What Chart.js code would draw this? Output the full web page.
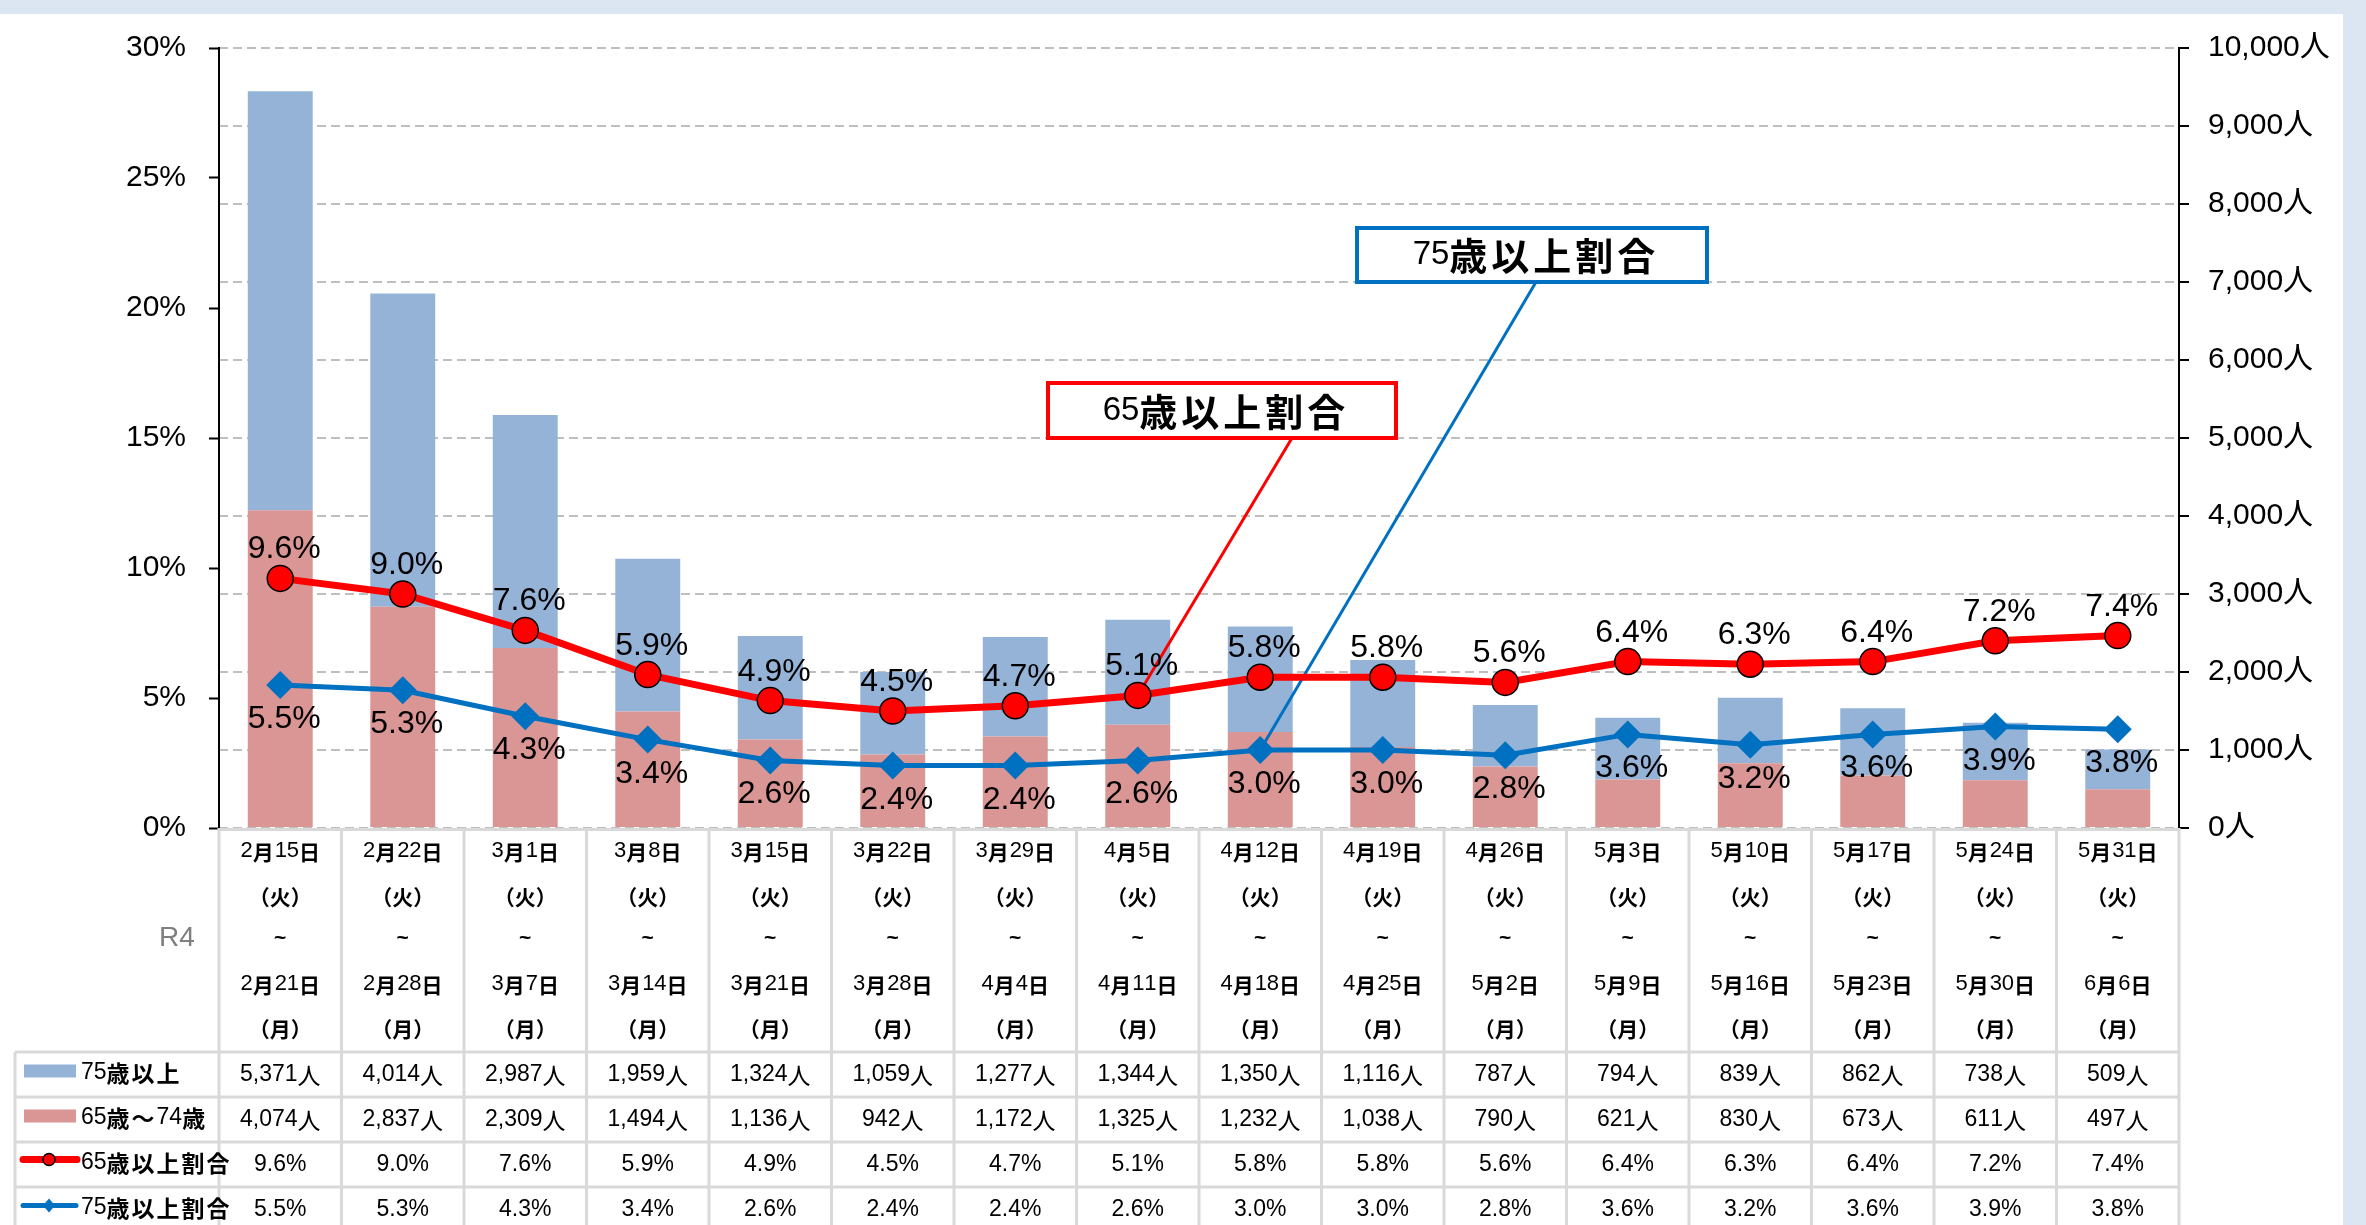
<!DOCTYPE html>
<html lang="ja">
<head>
    <meta charset="UTF-8">
    <title>65歳以上・75歳以上割合の推移</title>
    <script src="https://cdn.jsdelivr.net/npm/chart.js"></script>
    <style>
        html, body {
            margin: 0;
            padding: 0;
            background: #fff;
        }
        #wrap {
            width: 2366px;
            height: 1225px;
        }
    </style>
</head>
<body>
    <div id="wrap">
        <canvas id="ageChart" width="2366" height="1225"></canvas>
    </div>

    <script>
        // week start / end (R4)
        const startDates = ['2月15日', '2月22日', '3月1日', '3月8日', '3月15日', '3月22日', '3月29日', '4月5日',
            '4月12日', '4月19日', '4月26日', '5月3日', '5月10日', '5月17日', '5月24日', '5月31日'];
        const endDates = ['2月21日', '2月28日', '3月7日', '3月14日', '3月21日', '3月28日', '4月4日', '4月11日',
            '4月18日', '4月25日', '5月2日', '5月9日', '5月16日', '5月23日', '5月30日', '6月6日'];

        // people
        const over75 = [5371, 4014, 2987, 1959, 1324, 1059, 1277, 1344, 1350, 1116, 787, 794, 839, 862, 738, 509];
        const age65to74 = [4074, 2837, 2309, 1494, 1136, 942, 1172, 1325, 1232, 1038, 790, 621, 830, 673, 611, 497];

        // ratios (%)
        const rate65 = [9.6, 9.0, 7.6, 5.9, 4.9, 4.5, 4.7, 5.1, 5.8, 5.8, 5.6, 6.4, 6.3, 6.4, 7.2, 7.4];
        const rate75 = [5.5, 5.3, 4.3, 3.4, 2.6, 2.4, 2.4, 2.6, 3.0, 3.0, 2.8, 3.6, 3.2, 3.6, 3.9, 3.8];

        const seriesNames = ['75歳以上', '65歳～74歳', '65歳以上割合', '75歳以上割合'];

        const LATIN = '"Liberation Sans", Arial, sans-serif';
        const CJK = '"Noto Sans CJK JP", sans-serif';
        const BLUE_BAR = '#95B3D7';
        const PINK_BAR = '#D99694';
        const RED = '#FF0000';
        const BLUE = '#0070C0';
        const TABLE_LINE = '#D9D9D9';

        function isWide(ch) {
            return /[\u3000-\u30ff\u4e00-\u9fff\uff00-\uffef]/.test(ch);
        }

        // draws text mixing latin font with bold CJK glyphs
        function drawMixed(ctx, text, x, y, o) {
            const latinFont = (o.latinBold ? 'bold ' : '') + o.size + 'px ' + LATIN;
            const cjkFont = (o.cjkBold === false ? '' : 'bold ') + (o.cjkSize || o.size) + 'px ' + CJK;
            const gap = o.gap || 0;
            const chars = [...text].map(ch => {
                const wide = isWide(ch);
                ctx.font = wide ? cjkFont : latinFont;
                return { ch, font: ctx.font, w: ctx.measureText(ch).width, wide };
            });
            let total = 0;
            chars.forEach((c, i) => {
                total += c.w + (c.wide && i < chars.length - 1 ? gap : 0);
            });
            let cx = o.align === 'left' ? x : x - total / 2;
            ctx.fillStyle = o.color || '#000';
            ctx.textAlign = 'left';
            ctx.textBaseline = 'middle';
            chars.forEach(c => {
                ctx.font = c.font;
                ctx.fillText(c.ch, cx, y + (c.wide ? 1 : 0));
                cx += c.w + (c.wide ? gap : 0);
            });
        }

        const backgroundPlugin = {
            id: 'background',
            beforeDraw(chart) {
                const ctx = chart.ctx;
                ctx.save();
                ctx.fillStyle = '#fff';
                ctx.fillRect(0, 0, chart.width, chart.height);
                ctx.fillStyle = '#DCE6F2';
                ctx.fillRect(0, 0, chart.width, 14);
                ctx.fillRect(2343, 0, chart.width - 2343, chart.height);
                ctx.restore();
            }
        };

        // callout boxes with leader lines to a data point
        const callouts = [
            { text: '65歳以上割合', color: RED, box: [1048, 383, 348, 55], from: [1292, 438], dataset: 0, index: 7 },
            { text: '75歳以上割合', color: BLUE, box: [1357, 228, 350, 54], from: [1536, 282], dataset: 1, index: 8 }
        ];

        const calloutPlugin = {
            id: 'callouts',
            beforeDatasetDraw(chart, args) {
                if (args.index !== 1) return;
                const ctx = chart.ctx;
                const x = chart.scales.x;
                const y = chart.scales.y;
                ctx.save();
                callouts.forEach(c => {
                    const data = chart.data.datasets[c.dataset].data;
                    ctx.strokeStyle = c.color;
                    ctx.lineWidth = 3;
                    ctx.beginPath();
                    ctx.moveTo(c.from[0], c.from[1]);
                    ctx.lineTo(x.getPixelForValue(c.index), y.getPixelForValue(data[c.index]));
                    ctx.stroke();
                });
                ctx.restore();
            },
            afterDatasetsDraw(chart) {
                const ctx = chart.ctx;
                ctx.save();
                callouts.forEach(c => {
                    const [bx, by, bw, bh] = c.box;
                    ctx.fillStyle = '#fff';
                    ctx.fillRect(bx, by, bw, bh);
                    ctx.strokeStyle = c.color;
                    ctx.lineWidth = 4;
                    ctx.strokeRect(bx, by, bw, bh);
                    drawMixed(ctx, c.text, bx + bw / 2 + 2, by + bh / 2, { size: 33, cjkSize: 38, gap: 4 });
                });
                ctx.restore();
            }
        };

        const valueLabelPlugin = {
            id: 'valueLabels',
            afterDatasetsDraw(chart) {
                const ctx = chart.ctx;
                ctx.save();
                ctx.font = '32px ' + LATIN;
                ctx.fillStyle = '#000';
                ctx.textAlign = 'center';
                ctx.textBaseline = 'alphabetic';
                chart.getDatasetMeta(0).data.forEach((pt, i) => {
                    ctx.fillText(rate65[i].toFixed(1) + '%', pt.x + 4, pt.y - 20);
                });
                chart.getDatasetMeta(1).data.forEach((pt, i) => {
                    ctx.fillText(rate75[i].toFixed(1) + '%', pt.x + 4, pt.y + 43);
                });
                ctx.restore();
            }
        };

        // data table under the plot, columns follow the category scale
        const tablePlugin = {
            id: 'dataTable',
            afterDraw(chart) {
                const ctx = chart.ctx;
                const area = chart.chartArea;
                const xs = chart.scales.x;
                const n = startDates.length;
                const colW = (area.right - area.left) / n;
                const top = area.bottom;
                const headBottom = top + 224;
                const rowH = 45;
                const legendLeft = 15;
                const bottom = chart.height;

                ctx.save();
                ctx.strokeStyle = TABLE_LINE;
                ctx.lineWidth = 3;
                ctx.beginPath();
                ctx.moveTo(area.left, top + 1.5);
                ctx.lineTo(area.right, top + 1.5);
                for (let r = 0; r < 4; r++) {
                    const yy = headBottom + r * rowH;
                    ctx.moveTo(legendLeft, yy);
                    ctx.lineTo(area.right, yy);
                }
                for (let i = 0; i <= n; i++) {
                    const xx = area.left + i * colW;
                    ctx.moveTo(xx, top);
                    ctx.lineTo(xx, bottom);
                }
                ctx.moveTo(legendLeft, headBottom);
                ctx.lineTo(legendLeft, bottom);
                ctx.stroke();

                // header: period of each week
                const lineY = [23, 68, 110, 156, 200];
                for (let i = 0; i < n; i++) {
                    const cx = xs.getPixelForValue(i);
                    drawMixed(ctx, startDates[i], cx, top + lineY[0], { size: 22, cjkSize: 21, gap: 1 });
                    drawMixed(ctx, '（火）', cx, top + lineY[1], { size: 21, cjkSize: 21 });
                    ctx.font = 'bold 21px ' + LATIN;
                    ctx.textAlign = 'center';
                    ctx.textBaseline = 'middle';
                    ctx.fillText('~', cx, top + lineY[2]);
                    drawMixed(ctx, endDates[i], cx, top + lineY[3], { size: 22, cjkSize: 21, gap: 1 });
                    drawMixed(ctx, '（月）', cx, top + lineY[4], { size: 21, cjkSize: 21 });
                }

                ctx.font = '28px ' + LATIN;
                ctx.fillStyle = '#7F7F7F';
                ctx.textAlign = 'center';
                ctx.textBaseline = 'middle';
                ctx.fillText('R4', 177, top + lineY[2]);

                // value rows
                const rows = [
                    over75.map(v => v.toLocaleString('en-US') + '人'),
                    age65to74.map(v => v.toLocaleString('en-US') + '人'),
                    rate65.map(v => v.toFixed(1) + '%'),
                    rate75.map(v => v.toFixed(1) + '%')
                ];
                rows.forEach((row, r) => {
                    const cy = headBottom + r * rowH + rowH / 2;
                    row.forEach((txt, i) => {
                        drawMixed(ctx, txt, xs.getPixelForValue(i), cy, { size: 23, cjkBold: false });
                    });
                });

                // legend column
                const ly = r => headBottom + r * rowH + rowH / 2;
                ctx.fillStyle = BLUE_BAR;
                ctx.fillRect(24, ly(0) - 10, 52, 13);
                ctx.fillStyle = PINK_BAR;
                ctx.fillRect(24, ly(1) - 10, 52, 13);

                ctx.lineCap = 'round';
                ctx.strokeStyle = RED;
                ctx.lineWidth = 7;
                ctx.beginPath();
                ctx.moveTo(23, ly(2) - 5);
                ctx.lineTo(77, ly(2) - 5);
                ctx.stroke();
                ctx.beginPath();
                ctx.arc(49, ly(2) - 5, 6, 0, Math.PI * 2);
                ctx.fillStyle = RED;
                ctx.fill();
                ctx.lineWidth = 1.5;
                ctx.strokeStyle = '#000';
                ctx.stroke();

                ctx.strokeStyle = BLUE;
                ctx.lineWidth = 5;
                ctx.beginPath();
                ctx.moveTo(23, ly(3) - 4);
                ctx.lineTo(76, ly(3) - 4);
                ctx.stroke();
                ctx.fillStyle = BLUE;
                ctx.beginPath();
                ctx.moveTo(49, ly(3) - 11);
                ctx.lineTo(55, ly(3) - 4);
                ctx.lineTo(49, ly(3) + 3);
                ctx.lineTo(43, ly(3) - 4);
                ctx.closePath();
                ctx.fill();

                seriesNames.forEach((name, r) => {
                    drawMixed(ctx, name, 81, ly(r) - 2, { size: 23, cjkSize: 23, gap: 2, align: 'left' });
                });
                ctx.restore();
            }
        };

        const ctx = document.getElementById('ageChart').getContext('2d');

        const ageChart = new Chart(ctx, {
            data: {
                labels: startDates,
                datasets: [
                    {
                        type: 'line',
                        label: seriesNames[2],
                        data: rate65,
                        yAxisID: 'y',
                        borderColor: RED,
                        borderWidth: 7,
                        pointStyle: 'circle',
                        pointRadius: 13,
                        pointBackgroundColor: RED,
                        pointBorderColor: '#000',
                        pointBorderWidth: 1.5,
                        order: 0
                    },
                    {
                        type: 'line',
                        label: seriesNames[3],
                        data: rate75,
                        yAxisID: 'y',
                        borderColor: BLUE,
                        borderWidth: 5,
                        pointStyle: 'rectRot',
                        pointRadius: 14,
                        pointBackgroundColor: BLUE,
                        pointBorderColor: BLUE,
                        pointBorderWidth: 0,
                        order: 1
                    },
                    {
                        type: 'bar',
                        label: seriesNames[1],
                        data: age65to74,
                        yAxisID: 'y1',
                        backgroundColor: PINK_BAR,
                        barPercentage: 0.53,
                        categoryPercentage: 1,
                        order: 2
                    },
                    {
                        type: 'bar',
                        label: seriesNames[0],
                        data: over75,
                        yAxisID: 'y1',
                        backgroundColor: BLUE_BAR,
                        barPercentage: 0.53,
                        categoryPercentage: 1,
                        order: 2
                    }
                ]
            },
            options: {
                responsive: false,
                animation: false,
                devicePixelRatio: 1,
                layout: {
                    padding: { top: 48, bottom: 397, left: 0, right: 0 }
                },
                plugins: {
                    legend: { display: false },
                    tooltip: { enabled: false }
                },
                scales: {
                    x: {
                        display: false,
                        stacked: true,
                        offset: true
                    },
                    y: {
                        position: 'left',
                        min: 0,
                        max: 30,
                        ticks: {
                            stepSize: 5,
                            padding: 23,
                            color: '#000',
                            font: { family: LATIN, size: 30 },
                            callback: v => v + '%'
                        },
                        grid: {
                            drawOnChartArea: false,
                            tickLength: 10,
                            tickWidth: 2,
                            tickColor: '#000'
                        },
                        border: { color: '#000', width: 2 },
                        afterFit: s => { s.width = 219; }
                    },
                    y1: {
                        position: 'right',
                        stacked: true,
                        min: 0,
                        max: 10000,
                        ticks: {
                            stepSize: 1000,
                            padding: 19,
                            color: '#000',
                            font: { family: LATIN + ', "Noto Sans CJK JP"', size: 30 },
                            callback: v => v.toLocaleString('en-US') + '人'
                        },
                        grid: {
                            color: '#BFBFBF',
                            lineWidth: 2,
                            tickLength: 10,
                            tickWidth: 2,
                            tickColor: '#000'
                        },
                        border: { color: '#000', width: 2, dash: [9, 5] },
                        afterFit: s => { s.width = 187; }
                    }
                }
            },
            plugins: [backgroundPlugin, calloutPlugin, valueLabelPlugin, tablePlugin]
        });
    </script>
</body>
</html>
